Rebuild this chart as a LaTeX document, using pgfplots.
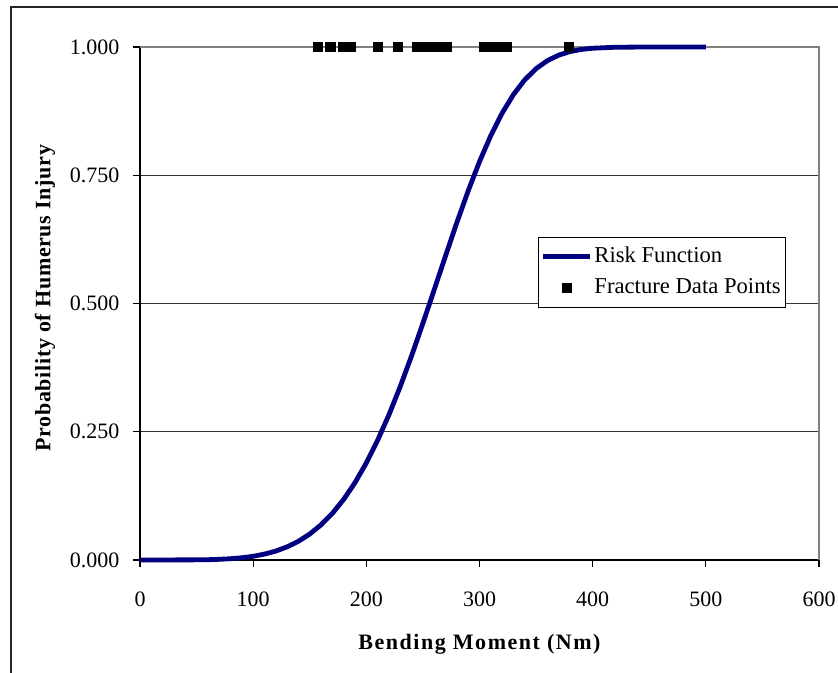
\documentclass[border=0pt]{standalone}
\usepackage{fontspec}
\setmainfont{Liberation Serif}
\usepackage{pgfplots}
\pgfplotsset{compat=1.18}
\definecolor{navy}{RGB}{0,0,128}
\definecolor{frame}{RGB}{128,128,128}

\pgfplotsset{
    lineleg/.style={legend image code/.code={\draw[##1] (0pt,0pt) -- (35pt,0pt);}},
    markleg/.style={legend image code/.code={\draw[mark repeat=2,mark phase=2,##1] plot coordinates {(0pt,0pt) (17.5pt,0pt) (35pt,0pt)};}},
}

\pgfplotstableread{
x p
0 0
50 0.0003
60 0.0006
70 0.0013
80 0.0025
90 0.0044
100 0.0072
110 0.0115
120 0.0174
130 0.0256
140 0.0365
150 0.0506
160 0.0686
170 0.0909
180 0.1182
190 0.1508
200 0.1892
210 0.2334
220 0.2831
230 0.3384
240 0.3981
250 0.4615
260 0.5270
270 0.5929
280 0.6578
290 0.7195
300 0.7765
310 0.8274
320 0.8711
330 0.9073
340 0.9360
350 0.9578
360 0.9734
370 0.9841
380 0.9911
390 0.9952
400 0.9976
420 0.9995
450 1.0000
500 1.0000
}\riskdata

\pgfplotstableread{
x p
157 1
168 1
179 1
186 1
210 1
228 1
245 1
252 1
258 1
265 1
271 1
304 1
312 1
318 1
324 1
379 1
}\fracturedata

\begin{document}
\fontsize{16.5}{19}\selectfont
\begin{tikzpicture}
\path[use as bounding box] (0,0) rectangle (628.5pt,504.75pt);
% chart area frame (cut off on right and bottom)
\draw[line width=0.8pt, black!85] (8.25pt,0pt) -- (8.25pt,499.5pt) -- (628.5pt,499.5pt);
\begin{axis}[
    at={(105pt,84.75pt)},
    anchor=south west,
    scale only axis,
    width=509.25pt,
    height=384.75pt,
    xmin=0, xmax=600,
    ymin=0, ymax=1,
    xtick={0,100,...,600},
    ytick={0,0.25,0.5,0.75,1},
    axis x line*=bottom,
    axis y line*=left,
    axis line style={-, line width=0.8pt, black},
    tick align=outside,
    major tick length=5.25pt,
    tick style={line width=0.8pt, black},
    ymajorgrids,
    major grid style={line width=0.6pt, black!80},
    /pgf/number format/assume math mode=true,
    yticklabel={\pgfmathprintnumber[fixed,fixed zerofill,precision=3]{\tick}},
    xticklabel style={font=\fontsize{16.5}{19}\selectfont, yshift=-13pt},
    yticklabel style={font=\fontsize{16.5}{19}\selectfont, xshift=-4.5pt},
    xlabel={Bending Moment (Nm)},
    ylabel={Probability of Humerus Injury},
    every axis x label/.style={at={(axis description cs:0.5,0)}, anchor=base, yshift=-67.5pt,
        font=\fontsize{16.5}{19}\selectfont\bfseries\addfontfeature{LetterSpace=7}},
    every axis y label/.style={at={([xshift=-71.25pt,yshift=4pt]axis description cs:0,0.5)}, rotate=90, anchor=center,
        font=\fontsize{16.5}{19}\selectfont\bfseries\addfontfeature{LetterSpace=3}},
    clip=false,
    legend style={at={(0.586,0.630)}, anchor=north west, draw=black, line width=0.6pt, fill=white,
        font=\fontsize{17}{19}\selectfont, inner xsep=2pt, inner ysep=6pt, row sep=6.5pt,
        nodes={inner sep=1.5pt}},
    legend cell align=left,
]
\draw[frame, line width=0.8pt] (axis cs:0,1) -- (axis cs:600,1) -- (axis cs:600,0);
\addplot[navy, line width=3.6pt, line join=round, lineleg]
    table[x=x, y=p] {\riskdata};
\addlegendentry{Risk Function}
\addplot[only marks, mark=square*, mark size=3.5pt, black, markleg]
    table[x=x, y=p] {\fracturedata};
\addlegendentry{Fracture Data Points}
\end{axis}
\end{tikzpicture}
\end{document}
